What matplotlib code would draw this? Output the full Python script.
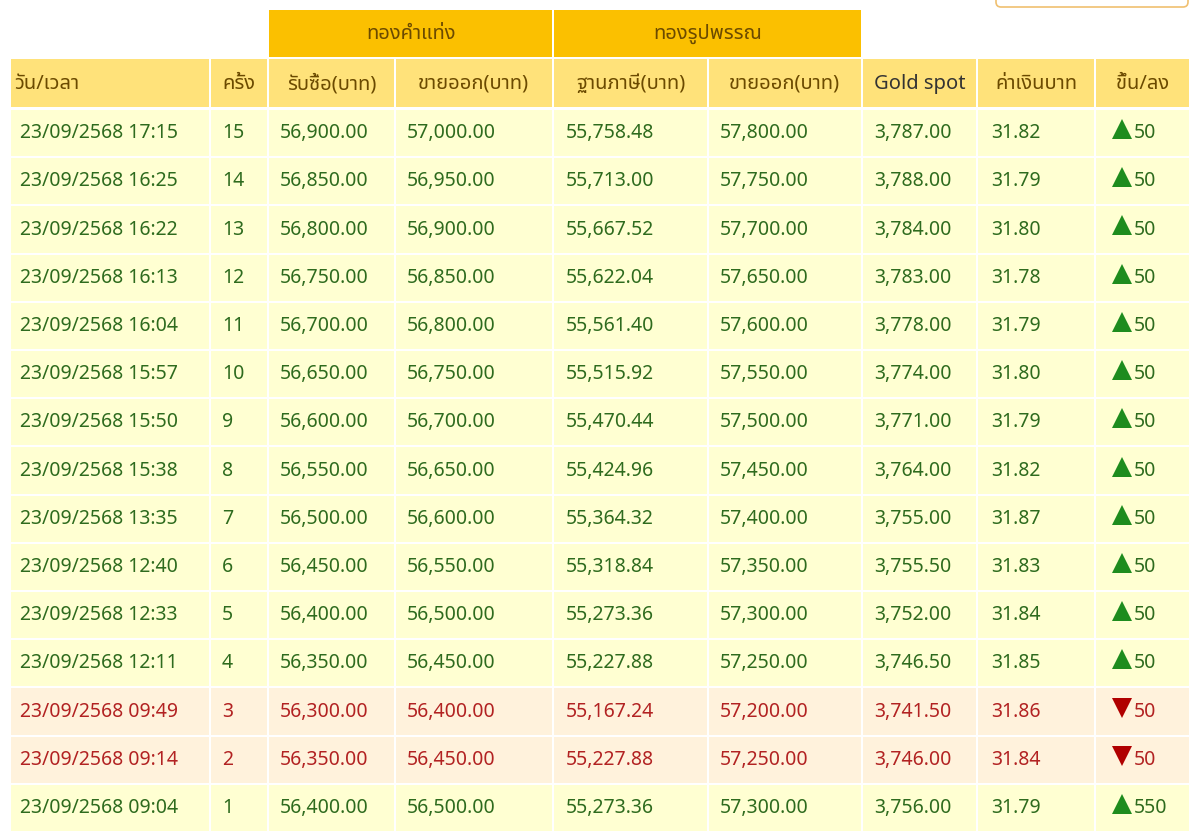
import matplotlib
matplotlib.use("Agg")
import matplotlib.pyplot as plt
from matplotlib.patches import Rectangle, FancyBboxPatch

times = ["23/09/2568 17:15","23/09/2568 16:25","23/09/2568 16:22","23/09/2568 16:13","23/09/2568 16:04",
         "23/09/2568 15:57","23/09/2568 15:50","23/09/2568 15:38","23/09/2568 13:35","23/09/2568 12:40",
         "23/09/2568 12:33","23/09/2568 12:11","23/09/2568 09:49","23/09/2568 09:14","23/09/2568 09:04"]
rounds = [15,14,13,12,11,10,9,8,7,6,5,4,3,2,1]
bar_buy = [56900,56850,56800,56750,56700,56650,56600,56550,56500,56450,56400,56350,56300,56350,56400]
bar_sell = [57000,56950,56900,56850,56800,56750,56700,56650,56600,56550,56500,56450,56400,56450,56500]
orn_base = [55758.48,55713.00,55667.52,55622.04,55561.40,55515.92,55470.44,55424.96,55364.32,55318.84,
            55273.36,55227.88,55167.24,55227.88,55273.36]
orn_sell = [57800,57750,57700,57650,57600,57550,57500,57450,57400,57350,57300,57250,57200,57250,57300]
gold_spot = [3787.00,3788.00,3784.00,3783.00,3778.00,3774.00,3771.00,3764.00,3755.00,3755.50,
             3752.00,3746.50,3741.50,3746.00,3756.00]
thb = [31.82,31.79,31.80,31.78,31.79,31.80,31.79,31.82,31.87,31.83,31.84,31.85,31.86,31.84,31.79]
change = [50,50,50,50,50,50,50,50,50,50,50,50,-50,-50,550]
headers = ["วัน/เวลา","ครั้ง","รับซื้อ(บาท)","ขายออก(บาท)","ฐานภาษี(บาท)","ขายออก(บาท)",
           "Gold spot","ค่าเงินบาท","ขึ้น/ลง"]
groups = ["ทองคำแท่ง","ทองรูปพรรณ"]

plt.rcParams["font.family"] = ["Liberation Sans Narrow","Noto Sans Thai","Loma","Garuda",
                               "Tlwg Typist","Noto Sans","DejaVu Sans"]
fig = plt.figure(figsize=(12,8.38), dpi=100)
ax = fig.add_axes([0,0,1,1])
ax.set_xlim(0,1200); ax.set_ylim(838,0); ax.axis("off")

xs = [10,210,268,395,553,708,862,977,1095,1190]
g = 2
ax.add_patch(FancyBboxPatch((996,-10),192,17,boxstyle="round,pad=0,rounding_size=5",
                            fc="white",ec="#F0C070",lw=1.2))
for (a,b),t in zip([(2,4),(4,6)],groups):
    ax.add_patch(Rectangle((xs[a]+g/2,10),xs[b]-xs[a]-g,47,fc="#FBC000",ec="none"))
    ax.text((xs[a]+xs[b])/2,34,t,ha="center",va="center",fontsize=14.5,color="#6B4A00")
for i,t in enumerate(headers):
    x0,x1 = xs[i],xs[i+1]
    ax.add_patch(Rectangle((x0+g/2,59),x1-x0-g,48,fc="#FFE27A",ec="none"))
    col = "#333333" if i == 6 else "#6B4A00"
    if i==0:
        ax.text(x0+4,84,t,ha="left",va="center",fontsize=14.5,color=col)
    else:
        ax.text((x0+x1)/2,84,t,ha="center",va="center",fontsize=14.5,color=col)
y0, rh = 109, 48.2
for r in range(len(times)):
    down = change[r] < 0
    fc = "#FFF2DC" if down else "#FFFFD2"
    tc = "#B22222" if down else "#2E6B1E"
    yt = y0 + rh*r
    yc = yt + rh/2
    for i in range(9):
        ax.add_patch(Rectangle((xs[i]+g/2,yt+1),xs[i+1]-xs[i]-g,rh-2,fc=fc,ec="none"))
    vals = [times[r], str(rounds[r]), f"{bar_buy[r]:,.2f}", f"{bar_sell[r]:,.2f}",
            f"{orn_base[r]:,.2f}", f"{orn_sell[r]:,.2f}", f"{gold_spot[r]:,.2f}", f"{thb[r]:.2f}"]
    offs = [10,12,12,12,13,12,12,14]
    for i,v in enumerate(vals):
        ax.text(xs[i]+offs[i],yc,v,ha="left",va="center",fontsize=14,color=tc)
    ax.plot([1122],[yc-4],marker="v" if down else "^",ms=14,color="#B00000" if down else "#1E8C1E",
            markeredgewidth=0)
    ax.text(1134,yc,f"{abs(change[r])}",ha="left",va="center",fontsize=14,color=tc)

fig.savefig("out.png",dpi=100,facecolor="white")
